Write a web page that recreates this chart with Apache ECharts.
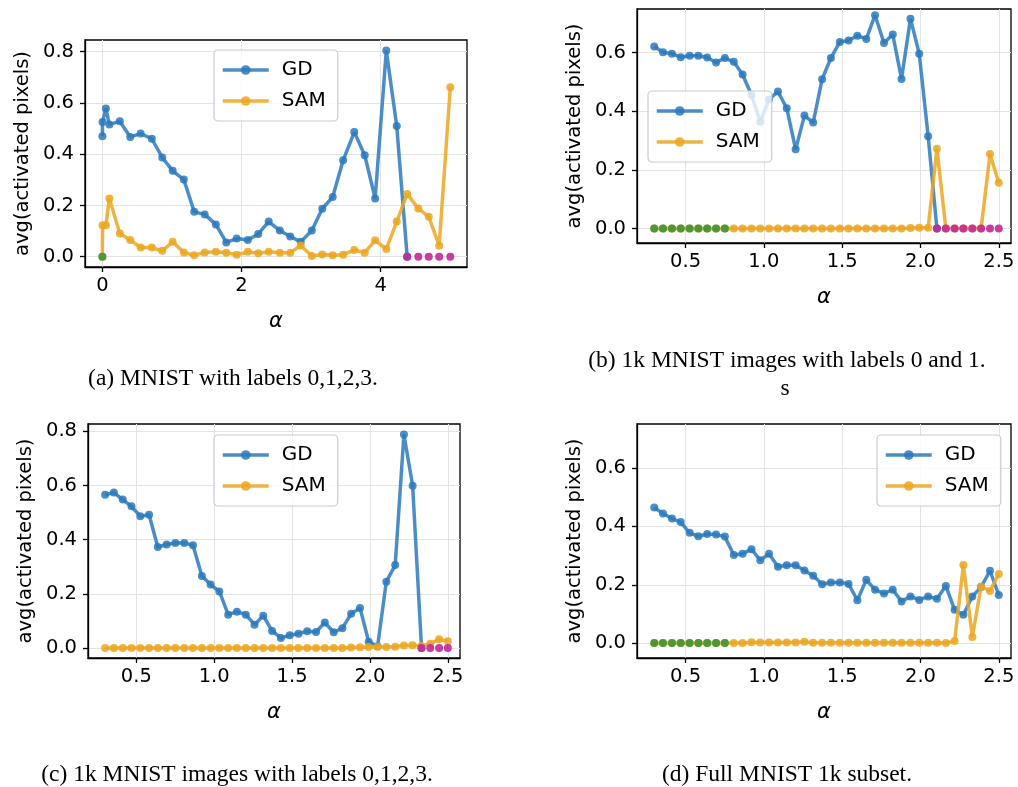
<!DOCTYPE html>
<html>
<head>
<meta charset="utf-8">
<script src="https://cdn.jsdelivr.net/npm/echarts@6/dist/echarts.min.js"></script>
<style>
  html, body { margin: 0; padding: 0; background: #fff; }
  #chart { width: 1018px; height: 787px; }
</style>
</head>
<body>
<div id="chart"></div>
<script>
// alpha grid of panel (a)
const alphaA = [0, 0.002, 0.05, 0.1, 0.25, 0.40, 0.55, 0.71, 0.86, 1.01, 1.17, 1.32, 1.47, 1.63, 1.78, 1.93,
  2.09, 2.24, 2.39, 2.55, 2.70, 2.85, 3.01, 3.16, 3.31, 3.46, 3.62, 3.77, 3.92, 4.08, 4.23, 4.38, 4.54, 4.69, 4.84, 5.0];
// alpha grid of panels (b), (c), (d)
const alphaB = [0.300, 0.356, 0.413, 0.469, 0.526, 0.582, 0.638, 0.695, 0.751, 0.808, 0.864, 0.921, 0.977,
  1.033, 1.090, 1.146, 1.203, 1.259, 1.315, 1.372, 1.428, 1.485, 1.541, 1.597, 1.654, 1.710, 1.767, 1.823,
  1.879, 1.936, 1.992, 2.049, 2.105, 2.162, 2.218, 2.274, 2.331, 2.387, 2.444, 2.500];

const gdA = [0.47, 0.525, 0.578, 0.516, 0.528, 0.467, 0.48, 0.46, 0.387, 0.335, 0.301, 0.175, 0.165, 0.126,
  0.056, 0.071, 0.065, 0.089, 0.137, 0.102, 0.079, 0.058, 0.102, 0.187, 0.233, 0.376, 0.486, 0.396, 0.227,
  0.804, 0.51, 0];
const samA = [0, 0.123, 0.123, 0.227, 0.091, 0.065, 0.036, 0.036, 0.023, 0.058, 0.017, 0.006, 0.017, 0.019,
  0.016, 0.008, 0.019, 0.014, 0.019, 0.016, 0.016, 0.044, 0.003, 0.009, 0.006, 0.008, 0.026, 0.016, 0.064,
  0.03, 0.137, 0.245, 0.188, 0.156, 0.043, 0.661];

const gdB = [0.62, 0.601, 0.596, 0.584, 0.589, 0.589, 0.583, 0.566, 0.581, 0.568, 0.525, 0.455, 0.364, 0.44,
  0.467, 0.41, 0.27, 0.385, 0.361, 0.509, 0.581, 0.636, 0.641, 0.657, 0.646, 0.727, 0.632, 0.661, 0.51,
  0.715, 0.596, 0.315, 0];
const samB = [0, 0, 0, 0, 0, 0, 0, 0, 0, 0, 0, 0, 0, 0, 0, 0, 0, 0, 0, 0, 0, 0, 0, 0, 0, 0, 0, 0, 0, 0.002,
  0.003, 0.003, 0.272, 0, 0, 0, 0, 0, 0.254, 0.156];

const gdC = [0.566, 0.574, 0.548, 0.523, 0.486, 0.492, 0.373, 0.382, 0.388, 0.388, 0.379, 0.266, 0.234, 0.209,
  0.123, 0.134, 0.123, 0.086, 0.119, 0.063, 0.037, 0.047, 0.053, 0.062, 0.059, 0.094, 0.058, 0.073, 0.126,
  0.148, 0.023, 0.006, 0.245, 0.306, 0.788, 0.599, 0];
const samC = [0, 0, 0, 0, 0, 0, 0, 0, 0, 0, 0, 0, 0, 0, 0, 0, 0, 0, 0, 0, 0, 0, 0, 0, 0, 0, 0, 0, 0.002,
  0.003, 0.004, 0.005, 0.004, 0.005, 0.009, 0.01, 0.007, 0.016, 0.032, 0.025];

const gdD = [0.465, 0.444, 0.427, 0.415, 0.378, 0.366, 0.374, 0.372, 0.365, 0.302, 0.306, 0.322, 0.284, 0.306,
  0.262, 0.267, 0.267, 0.249, 0.231, 0.202, 0.208, 0.208, 0.203, 0.147, 0.217, 0.183, 0.17, 0.183, 0.143,
  0.16, 0.148, 0.16, 0.152, 0.196, 0.114, 0.097, 0.16, 0.192, 0.248, 0.165];
const samD = [0, 0, 0, 0, 0, 0, 0, 0, 0, 0, 0, 0.003, 0.002, 0.002, 0.002, 0.002, 0.002, 0.005, 0.001, 0.001,
  0.001, 0.001, 0.001, 0.001, 0.001, 0.001, 0.001, 0.001, 0.001, 0.001, 0.001, 0.001, 0.001, 0, 0.007,
  0.268, 0.021, 0.194, 0.179, 0.237];

// green = leading SAM zeros, magenta = GD zeros after the drop
const greenCount = [1, 9, 0, 9];
const magentaStart = [31, 32, 36, null];

const xTicksA = [0, 2, 4];
const xTicksB = [0.5, 1.0, 1.5, 2.0, 2.5];
const yTicks8 = [0, 0.2, 0.4, 0.6, 0.8];
const yTicks6 = [0, 0.2, 0.4, 0.6];

const captions = [
  '(a) MNIST with labels 0,1,2,3.',
  '(b) 1k MNIST images with labels 0 and 1.',
  '(c) 1k MNIST images with labels 0,1,2,3.',
  '(d) Full MNIST 1k subset.'
];

const BLUE = '#2a79bd';
const ORANGE = '#eca620';
const GREEN = '#3a963a';
const MAGENTA = '#c2289a';
const FONT = 'DejaVu Sans';

const panels = [
  { alpha: alphaA, gd: gdA, sam: samA, xMin: -0.25, xMax: 5.24, yMin: -0.04, yMax: 0.845,
    xTicks: xTicksA, yTicks: yTicks8, xDec: 0,
    grid: { left: 85, top: 40, width: 382, height: 227 }, legend: { left: 214, top: 50 } },
  { alpha: alphaB, gd: gdB, sam: samB, xMin: 0.19, xMax: 2.578, yMin: -0.049, yMax: 0.748,
    xTicks: xTicksB, yTicks: yTicks6, xDec: 1,
    grid: { left: 637, top: 9, width: 374, height: 234 }, legend: { left: 648, top: 91 } },
  { alpha: alphaB, gd: gdC, sam: samC, xMin: 0.19, xMax: 2.578, yMin: -0.037, yMax: 0.827,
    xTicks: xTicksB, yTicks: yTicks8, xDec: 1,
    grid: { left: 88, top: 424, width: 372, height: 234 }, legend: { left: 214, top: 435 } },
  { alpha: alphaB, gd: gdD, sam: samD, xMin: 0.19, xMax: 2.578, yMin: -0.051, yMax: 0.751,
    xTicks: xTicksB, yTicks: yTicks6, xDec: 1,
    grid: { left: 637, top: 424, width: 374, height: 234 }, legend: { left: 877, top: 435 } }
];

const grids = [], xAxes = [], yAxes = [], legends = [], series = [];

panels.forEach((p, k) => {
  grids.push(Object.assign({ show: true, borderColor: '#000', borderWidth: 1.3, containLabel: false }, p.grid));
  xAxes.push({
    gridIndex: k, type: 'value', min: p.xMin, max: p.xMax,
    name: 'α', nameLocation: 'middle', nameGap: 44,
    nameTextStyle: { fontFamily: FONT, fontStyle: 'italic', fontSize: 21, color: '#000' },
    axisLine: { show: true, onZero: false, lineStyle: { color: '#000', width: 1.3 } },
    axisTick: { show: true, length: 5, customValues: p.xTicks, lineStyle: { color: '#000', width: 1.3 } },
    axisLabel: { customValues: p.xTicks, margin: 9, color: '#000', fontFamily: FONT, fontSize: 19.5,
      formatter: v => v.toFixed(p.xDec) },
    splitLine: { show: true, lineStyle: { color: '#e3e3e3', width: 1 } }
  });
  yAxes.push({
    gridIndex: k, type: 'value', min: p.yMin, max: p.yMax,
    name: 'avg(activated pixels)', nameLocation: 'middle', nameGap: 52,
    nameTextStyle: { fontFamily: FONT, fontSize: 19.5, color: '#000' },
    axisLine: { show: true, onZero: false, lineStyle: { color: '#000', width: 1.3 } },
    axisTick: { show: true, length: 5, customValues: p.yTicks, lineStyle: { color: '#000', width: 1.3 } },
    axisLabel: { customValues: p.yTicks, margin: 11, color: '#000', fontFamily: FONT, fontSize: 19.5,
      formatter: v => v.toFixed(1) },
    splitLine: { show: true, lineStyle: { color: '#e3e3e3', width: 1 } }
  });
  legends.push({
    left: p.legend.left, top: p.legend.top, orient: 'vertical',
    data: ['GD', 'SAM'], selectedMode: false,
    itemWidth: 46, itemHeight: 12, itemGap: 11,
    padding: [10, 12, 10, 7],
    lineStyle: { width: 3.5 },
    backgroundColor: 'rgba(255,255,255,0.8)', borderColor: '#cccccc', borderWidth: 1.2, borderRadius: 4,
    textStyle: { fontFamily: FONT, fontSize: 20, color: '#000', padding: [0, 0, 0, 8] }
  });
  const mk = (name, vals, color, z) => ({
    name, type: 'line', xAxisIndex: k, yAxisIndex: k,
    data: vals.map((v, i) => [p.alpha[i], v]),
    symbol: 'circle', symbolSize: 8, showSymbol: true,
    lineStyle: { color, width: 3.5, opacity: 0.85 },
    itemStyle: { color, opacity: 0.85 },
    emphasis: { disabled: true }, animation: false, z
  });
  series.push(mk('GD', p.gd, BLUE, 2));
  series.push(mk('SAM', p.sam, ORANGE, 3));
  const gN = greenCount[k];
  if (gN > 0) {
    series.push({
      name: 'zero-start', type: 'scatter', xAxisIndex: k, yAxisIndex: k,
      data: p.sam.slice(0, gN).map((v, i) => [p.alpha[i], v]),
      symbolSize: 8, itemStyle: { color: GREEN, opacity: 0.9 }, z: 4, animation: false
    });
  }
  const mS = magentaStart[k];
  if (mS !== null) {
    series.push({
      name: 'zero-end', type: 'scatter', xAxisIndex: k, yAxisIndex: k,
      data: p.alpha.slice(mS).map(a => [a, 0]),
      symbolSize: 8, itemStyle: { color: MAGENTA, opacity: 0.9 }, z: 5, animation: false
    });
  }
});

const capStyle = { font: '23.5px "Liberation Serif"', fill: '#000', align: 'center', verticalAlign: 'middle' };
const graphics = [
  { type: 'text', x: 233, y: 379, style: Object.assign({ text: captions[0] }, capStyle) },
  { type: 'text', x: 787, y: 361, style: Object.assign({ text: captions[1] }, capStyle) },
  { type: 'text', x: 785, y: 389, style: Object.assign({ text: 's' }, capStyle) },
  { type: 'text', x: 237, y: 775, style: Object.assign({ text: captions[2] }, capStyle) },
  { type: 'text', x: 787, y: 775, style: Object.assign({ text: captions[3] }, capStyle) }
];

const chart = echarts.init(document.getElementById('chart'), null, { renderer: 'canvas' });
chart.setOption({
  animation: false,
  backgroundColor: '#fff',
  grid: grids,
  xAxis: xAxes,
  yAxis: yAxes,
  legend: legends,
  series,
  graphic: graphics
});
</script>
</body>
</html>
